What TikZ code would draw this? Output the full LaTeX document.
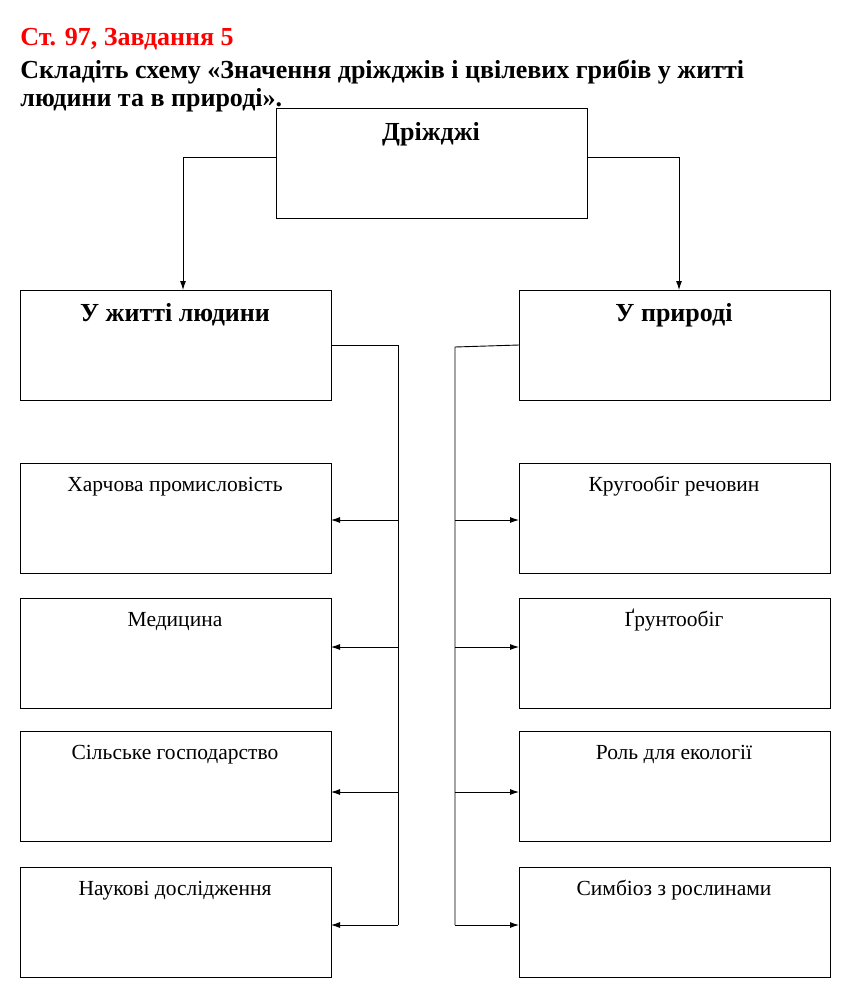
\documentclass[tikz,border=0pt]{standalone}
\usepackage{fontspec}
\setmainfont{Liberation Serif}
\usetikzlibrary{positioning,arrows.meta}
\begin{document}
\begin{tikzpicture}[x=1pt,y=-1pt,line width=0.9pt,
  box/.style={draw,minimum width=311pt,minimum height=110pt,anchor=north west,inner sep=0pt},
  head/.style={font=\fontsize{26}{28}\selectfont\bfseries},
  item/.style={font=\fontsize{21.5}{23}\selectfont},
  conn/.style={-{Latex[length=9pt,width=6pt]}}]
	\useasboundingbox (0,0) rectangle (852,998);
	% title
	\node[anchor=base west,text=red,font=\fontsize{26}{28}\selectfont\bfseries,inner sep=0pt] (t1) at (20,46) {Ст. 97, Завдання 5};
	\node[anchor=base west,font=\fontsize{26}{28}\selectfont\bfseries,inner sep=0pt] (t2) at (20,78) {Складіть схему «Значення дріжджів і цвілевих грибів у житті};
	\node[anchor=base west,font=\fontsize{26}{28}\selectfont\bfseries,inner sep=0pt] (t3) at (20,106) {людини та в природі».};
	% top box
	\node[box] (yeast) at (276,108) {};
	\node[head,anchor=base] at (431,140) {Дріжджі};
	% main boxes
	\node[box] (human) at (20,290) {};
	\node[head,anchor=base] at (175,321) {У житті людини};
	\node[box] (nature) at (519,290) {};
	\node[head,anchor=base] at (674,321) {У природі};
	\coordinate (yl) at (276,157);
	\coordinate (yr) at (587,157);
	\draw[conn] (yl) -| (183,290);
	\draw[conn] (yr) -| (679,290);
	% left items
	\foreach \y/\n/\t/\a in {463/h1/Харчова промисловість/520,598/h2/Медицина/647,731/h3/Сільське господарство/792,867/h4/Наукові дослідження/925}{
		\node[box] (\n) at (20,\y) {};
		\node[item,anchor=base] at (175,\y+28) {\t};
		\draw[conn] (398,\a) -- (331,\a);
	}
	% right items
	\foreach \y/\n/\t/\a in {463/p1/Кругообіг речовин/520,598/p2/Ґрунтообіг/647,731/p3/Роль для екології/792,867/p4/Симбіоз з рослинами/925}{
		\node[box] (\n) at (519,\y) {};
		\node[item,anchor=base] at (674,\y+28) {\t};
		\draw[conn] (455,\a) -- (519,\a);
	}
	\draw (331,345) -- (398,345) -- (398,925);
	\draw (519,345) -- (455,347) -- (455,925);
\end{tikzpicture}
\end{document}
